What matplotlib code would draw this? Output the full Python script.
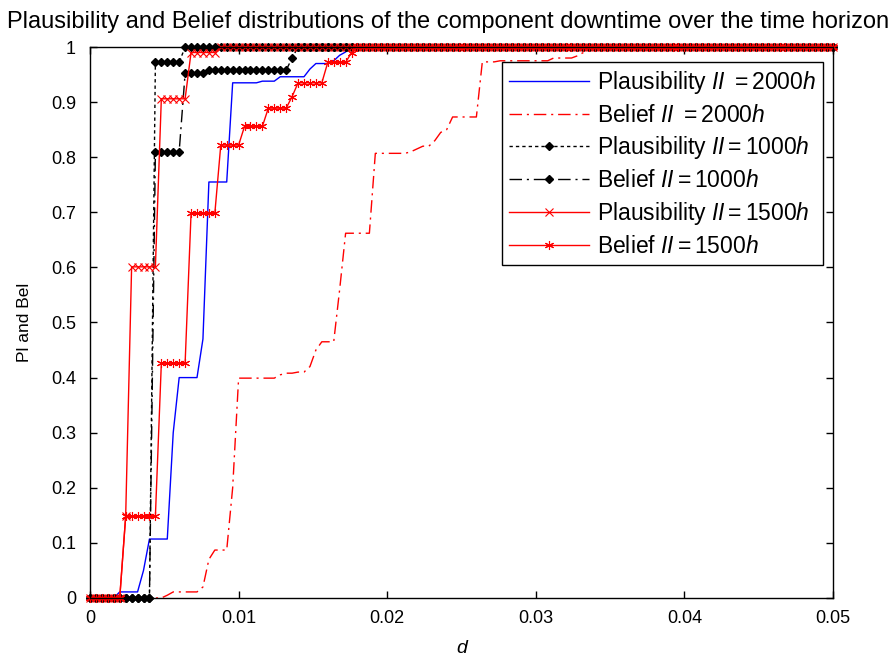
import numpy as np
import matplotlib
matplotlib.use("Agg")
import matplotlib.pyplot as plt

plt.rcParams['font.family'] = ['Liberation Sans', 'DejaVu Sans']
plt.rcParams['mathtext.fontset'] = 'custom'
plt.rcParams['mathtext.it'] = 'Liberation Sans:italic'
plt.rcParams['mathtext.rm'] = 'Liberation Sans'

# ---- data: common d grid (sampling step of the downtime) ----
d_step = 0.0004
n_points = 126

# each series is stored as run-length pairs: value held for count grid samples
pl2000_vals = [0, 0.011, 0.05, 0.107, 0.30, 0.40, 0.47, 0.755, 0.935, 0.938, 0.946, 0.96, 0.97, 0.975, 0.985, 0.991, 1]
pl2000_runs = [5, 4, 1, 4, 1, 4, 1, 4, 5, 3, 5, 1, 3, 1, 1, 1, 82]

bel2000_vals = [0, 0.005, 0.011, 0.02, 0.07, 0.087, 0.2, 0.399, 0.405, 0.408, 0.41, 0.42, 0.45, 0.465, 0.56,
                0.662, 0.807, 0.81, 0.815, 0.82, 0.83, 0.845, 0.85, 0.873, 0.973, 0.975, 0.98, 0.984, 0.99, 1]
bel2000_runs = [13, 1, 5, 1, 1, 3, 1, 7, 1, 2, 2, 1, 1, 3, 1,
                5, 6, 1, 1, 2, 1, 1, 1, 5, 3, 9, 4, 1, 1, 42]

pl1000_vals = [0, 0.972, 1]
pl1000_runs = [11, 5, 110]

bel1000_vals = [0, 0.81, 0.952, 0.958, 0.98, 1]
bel1000_runs = [11, 5, 4, 14, 1, 91]

pl1500_vals = [0, 0.148, 0.601, 0.906, 0.99, 1]
pl1500_runs = [6, 1, 5, 5, 5, 104]

bel1500_vals = [0, 0.148, 0.426, 0.698, 0.822, 0.856, 0.889, 0.91, 0.935, 0.972, 0.99, 1]
bel1500_runs = [6, 6, 5, 5, 4, 4, 4, 1, 5, 4, 1, 81]

labels = [r"Plausibility $\mathit{II}$ $\mathit{{=}2000h}$",
          r"Belief $\mathit{II}$ $\mathit{{=}2000h}$",
          r"Plausibility $\mathit{II{=}1000h}$",
          r"Belief $\mathit{II{=}1000h}$",
          r"Plausibility $\mathit{II{=}1500h}$",
          r"Belief $\mathit{II{=}1500h}$"]

xticks = [0, 0.01, 0.02, 0.03, 0.04, 0.05]
xticklabels = ["0", "0.01", "0.02", "0.03", "0.04", "0.05"]
yticks = [0, 0.1, 0.2, 0.3, 0.4, 0.5, 0.6, 0.7, 0.8, 0.9, 1]
yticklabels = ["0", "0.1", "0.2", "0.3", "0.4", "0.5", "0.6", "0.7", "0.8", "0.9", "1"]

d = np.arange(n_points) * d_step


def expand(vals, runs):
    return np.repeat(vals, runs)


fig = plt.figure(figsize=(8.92, 6.62), dpi=100)
ax = fig.add_axes([0.1009, 0.0967, 0.8330, 0.8323])

dashdot = (0, (9, 3.5, 1.5, 3.5))
dotted = (0, (2.4, 2.2))
asterisk = (6, 2, 0)

ax.plot(d, expand(pl2000_vals, pl2000_runs), color='#0000ff', lw=1.0,
        linestyle='-', label=labels[0], clip_on=False)
ax.plot(d, expand(bel2000_vals, bel2000_runs), color='#ff0000', lw=1.0,
        linestyle=dashdot, label=labels[1], clip_on=False)
ax.plot(d, expand(pl1000_vals, pl1000_runs), color='black', lw=1.0,
        linestyle=dotted, marker='D', markersize=4.3, label=labels[2], clip_on=False)
ax.plot(d, expand(bel1000_vals, bel1000_runs), color='black', lw=1.0,
        linestyle=dashdot, marker='D', markersize=4.3, label=labels[3], clip_on=False)
ax.plot(d, expand(pl1500_vals, pl1500_runs), color='#ff0000', lw=1.0,
        linestyle='-', marker='x', markersize=5.5, markeredgewidth=0.8, label=labels[4], clip_on=False)
ax.plot(d, expand(bel1500_vals, bel1500_runs), color='#ff0000', lw=1.0,
        linestyle='-', marker=asterisk, markersize=6.5, markeredgewidth=0.8, label=labels[5], clip_on=False)

ax.set_xlim(0, 0.05)
ax.set_ylim(0, 1)
ax.set_xticks(xticks)
ax.set_xticklabels(xticklabels)
ax.set_yticks(yticks)
ax.set_yticklabels(yticklabels)
ax.tick_params(direction='in', length=5, width=1, top=True, right=True, labelsize=13)
ax.tick_params(axis='x', pad=9)
ax.tick_params(axis='y', pad=10)
for sp in ax.spines.values():
    sp.set_linewidth(1.0)

title = ax.set_title("Plausibility and Belief distributions of the component downtime over the time horizon",
                     fontsize=17, pad=14)
title.set_x(0.482)
ax.set_xlabel("d", fontsize=14, style='italic', labelpad=9)
ax.set_ylabel("Pl and Bel", fontsize=12.5, labelpad=14)

leg = ax.legend(loc='upper right', bbox_to_anchor=(0.986, 0.9728), fontsize=16.5, frameon=True,
                fancybox=False, edgecolor='black', framealpha=1, handlelength=3.5,
                labelspacing=0.34, borderpad=0.3, handletextpad=0.35, borderaxespad=0)
leg.get_frame().set_linewidth(1.0)

fig.savefig("out.png", dpi=100)
